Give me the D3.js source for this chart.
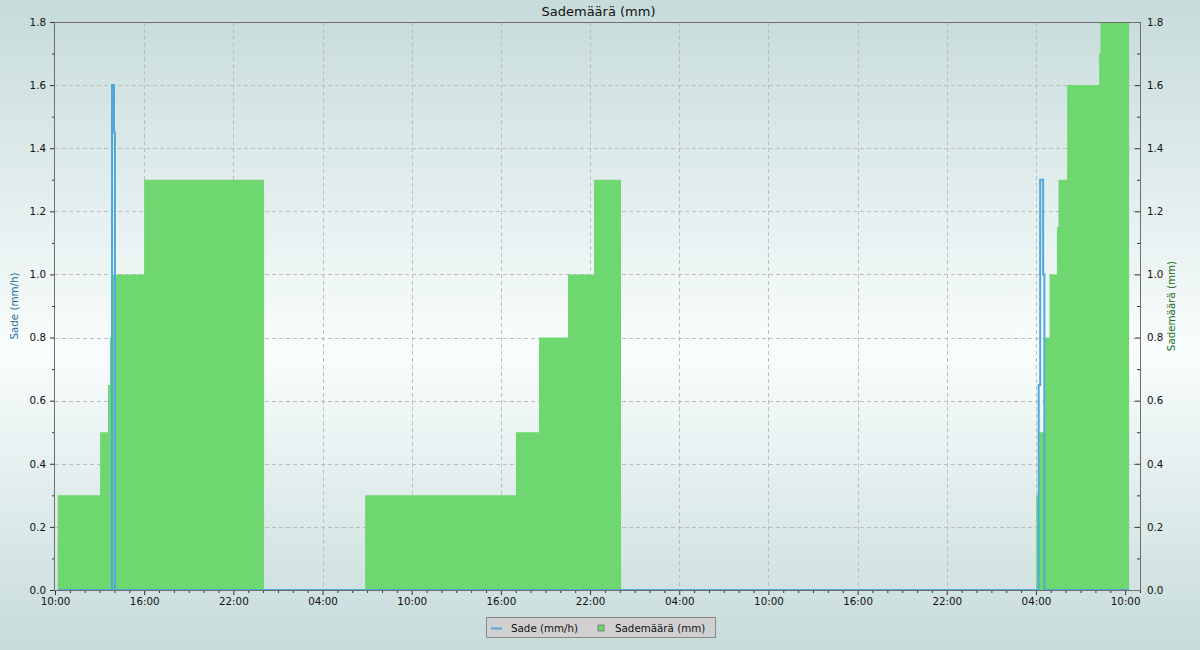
<!DOCTYPE html>
<html>
<head>
<meta charset="utf-8">
<script src="https://cdn.jsdelivr.net/npm/d3@7"></script>
<style>
  html, body { margin: 0; padding: 0; }
  svg { display: block; font-family: "DejaVu Sans", sans-serif; }
</style>
</head>
<body>
<svg id="chart" width="1200" height="650"></svg>
<script>
// ---- data ----
const titleText = "Sademäärä (mm)";
const leftAxisLabel = "Sade (mm/h)";
const rightAxisLabel = "Sademäärä (mm)";
const domainStart = "2024-06-10 10:00";
const domainEnd = "2024-06-13 11:00";

// accumulated rainfall (mm), step values
const totalTimes = [
  "2024-06-10 10:11", "2024-06-10 13:02", "2024-06-10 13:34", "2024-06-10 13:42",
  "2024-06-10 13:54", "2024-06-10 16:00", "2024-06-11 00:04",
  "2024-06-11 06:52", "2024-06-11 17:01", "2024-06-11 18:34", "2024-06-11 20:31",
  "2024-06-11 22:16", "2024-06-12 00:05",
  "2024-06-13 04:01", "2024-06-13 04:13", "2024-06-13 04:37", "2024-06-13 04:55",
  "2024-06-13 05:25", "2024-06-13 05:31", "2024-06-13 06:06", "2024-06-13 08:15",
  "2024-06-13 08:20", "2024-06-13 10:16"
];
const totalValues = [
  0.3, 0.5, 0.65, 0.8,
  1.0, 1.3, 0,
  0.3, 0.5, 0.8, 1.0,
  1.3, 0,
  0.3, 0.5, 0.8, 1.0,
  1.15, 1.3, 1.6, 1.7,
  1.8, 1.8
];

// rain rate (mm/h)
const rateTimes = [
  "2024-06-10 10:11", "2024-06-10 13:50", "2024-06-10 13:58", "2024-06-10 14:02",
  "2024-06-13 04:11", "2024-06-13 04:17", "2024-06-13 04:29", "2024-06-13 04:34",
  "2024-06-13 10:16"
];
const rateValues = [0, 1.6, 1.45, 0, 0.65, 1.3, 1.0, 0, 0];

const yMax = 1.8;
const yMajorTicks = [0, 0.2, 0.4, 0.6, 0.8, 1.0, 1.2, 1.4, 1.6, 1.8];
const yMinorTicks = [0.1, 0.3, 0.5, 0.7, 0.9, 1.1, 1.3, 1.5, 1.7];
const xMajorHours = [4, 10, 16, 22];

const legendItems = ["Sade (mm/h)", "Sademäärä (mm)"];

// ---- chart ----
const parse = d3.timeParse("%Y-%m-%d %H:%M");
const svg = d3.select("#chart");
const W = 1200, H = 650;
const M = { left: 55, right: 1140, top: 22, bottom: 590 };
const FS = 10.3;

const defs = svg.append("defs");
const grad = defs.append("linearGradient").attr("id", "bg")
  .attr("x1", 0).attr("y1", 0).attr("x2", 0).attr("y2", 1);
grad.append("stop").attr("offset", "0%").attr("stop-color", "#c6dbda");
grad.append("stop").attr("offset", "54%").attr("stop-color", "#f9fdfd");
grad.append("stop").attr("offset", "100%").attr("stop-color", "#c6dbda");
svg.append("rect").attr("width", W).attr("height", H).attr("fill", "url(#bg)");

const x = d3.scaleTime().domain([parse(domainStart), parse(domainEnd)]).range([M.left, M.right]);
const yL = d3.scaleLinear().domain([0, yMax]).range([M.bottom, M.top]);
const yR = d3.scaleLinear().domain([0, yMax]).range([M.bottom, M.top]);

const hourTicks = x.ticks(d3.timeHour.every(1));
const majorX = hourTicks.filter(d => xMajorHours.includes(d.getHours()) && d.getMinutes() === 0);
const minorX = hourTicks.filter(d => !majorX.includes(d));

// grid
const grid = svg.append("g").attr("stroke", "#bdbdbd").attr("stroke-width", 1)
  .attr("stroke-dasharray", "4,3").attr("shape-rendering", "crispEdges");
grid.selectAll("line.v").data(majorX.filter(d => x(d) > M.left + 1))
  .join("line").attr("x1", d => Math.round(x(d)) + 0.5).attr("x2", d => Math.round(x(d)) + 0.5)
  .attr("y1", M.top).attr("y2", M.bottom);
grid.selectAll("line.h").data(yMajorTicks.filter(v => v > 0 && v < yMax))
  .join("line").attr("y1", d => Math.round(yL(d)) + 0.5).attr("y2", d => Math.round(yL(d)) + 0.5)
  .attr("x1", M.left).attr("x2", M.right);

// series
const totalData = totalTimes.map((t, i) => ({ t: parse(t), v: totalValues[i] }));
const rateData = rateTimes.map((t, i) => ({ t: parse(t), v: rateValues[i] }));

const area = d3.area().curve(d3.curveStepAfter)
  .x(d => x(d.t)).y0(yR(0)).y1(d => yR(d.v));
svg.append("path").datum(totalData).attr("d", area).attr("fill", "#6fd76f");

const line = d3.line().curve(d3.curveStepAfter).x(d => x(d.t)).y(d => yL(d.v));
svg.append("path").datum(rateData).attr("d", line).attr("fill", "none")
  .attr("stroke", "#4da8dc").attr("stroke-width", 2).attr("stroke-linejoin", "miter");

// axes
function styleAxis(g) {
  g.select(".domain").remove();
  g.selectAll(".tick line").attr("stroke", "#333");
  g.selectAll("text").attr("fill", "#111").attr("font-size", FS).attr("font-family", "DejaVu Sans");
}
const gLeft = svg.append("g").attr("transform", `translate(${M.left},0)`)
  .call(d3.axisLeft(yL).tickValues(yMajorTicks).tickFormat(d3.format(".1f")).tickSize(5).tickPadding(4));
styleAxis(gLeft);
const gLeftMinor = svg.append("g").attr("transform", `translate(${M.left},0)`)
  .call(d3.axisLeft(yL).tickValues(yMinorTicks).tickFormat("").tickSize(3));
styleAxis(gLeftMinor);

const gRight = svg.append("g").attr("transform", `translate(${M.right},0)`)
  .call(d3.axisRight(yR).tickValues(yMajorTicks).tickFormat(d3.format(".1f")).tickSizeInner(-5).tickSizeOuter(0).tickPadding(7));
styleAxis(gRight);
const gRightMinor = svg.append("g").attr("transform", `translate(${M.right},0)`)
  .call(d3.axisRight(yR).tickValues(yMinorTicks).tickFormat("").tickSizeInner(-3).tickSizeOuter(0));
styleAxis(gRightMinor);

const gBottom = svg.append("g").attr("transform", `translate(0,${M.bottom})`)
  .call(d3.axisBottom(x).tickValues(majorX).tickFormat(d3.timeFormat("%H:%M")).tickSize(5).tickPadding(3));
styleAxis(gBottom);
const gBottomMinor = svg.append("g").attr("transform", `translate(0,${M.bottom})`)
  .call(d3.axisBottom(x).tickValues(minorX).tickFormat("").tickSize(3));
styleAxis(gBottomMinor);

// frame lines
const frame = svg.append("g").attr("stroke", "#6e6e6e").attr("stroke-width", 1).attr("shape-rendering", "crispEdges");
frame.append("line").attr("x1", M.left).attr("x2", M.right).attr("y1", M.top + 0.5).attr("y2", M.top + 0.5);
frame.append("line").attr("x1", M.left - 0.5).attr("x2", M.left - 0.5).attr("y1", M.top).attr("y2", M.bottom + 0.5);
frame.append("line").attr("x1", M.right + 0.5).attr("x2", M.right + 0.5).attr("y1", M.top).attr("y2", M.bottom + 0.5);
frame.append("line").attr("x1", M.left).attr("x2", M.right).attr("y1", M.bottom + 0.5).attr("y2", M.bottom + 0.5);

// title
svg.append("text").attr("x", 598.5).attr("y", 15.5).attr("text-anchor", "middle")
  .attr("font-size", 13).attr("fill", "#111").text(titleText);

// axis labels
svg.append("text").attr("transform", `translate(18,${(M.top + M.bottom) / 2}) rotate(-90)`)
  .attr("text-anchor", "middle").attr("font-size", FS).attr("fill", "#1f6e9c").text(leftAxisLabel);
svg.append("text").attr("transform", `translate(1174.5,${(M.top + M.bottom) / 2}) rotate(-90)`)
  .attr("text-anchor", "middle").attr("font-size", FS).attr("fill", "#1a6a1a").text(rightAxisLabel);

// legend
const lg = svg.append("g");
lg.append("rect").attr("x", 486.5).attr("y", 617.5).attr("width", 229).attr("height", 20)
  .attr("fill", "#d0d0d0").attr("stroke", "#888");
lg.append("line").attr("x1", 491).attr("x2", 502).attr("y1", 628.5).attr("y2", 628.5)
  .attr("stroke", "#4da8dc").attr("stroke-width", 2);
lg.append("text").attr("x", 511).attr("y", 631.5).attr("font-size", FS).attr("fill", "#111").text(legendItems[0]);
lg.append("rect").attr("x", 598).attr("y", 625).attr("width", 6).attr("height", 6)
  .attr("fill", "#6fd76f").attr("stroke", "#555").attr("stroke-width", 0.6);
lg.append("text").attr("x", 615).attr("y", 631.5).attr("font-size", FS).attr("fill", "#111").text(legendItems[1]);
</script>
</body>
</html>
